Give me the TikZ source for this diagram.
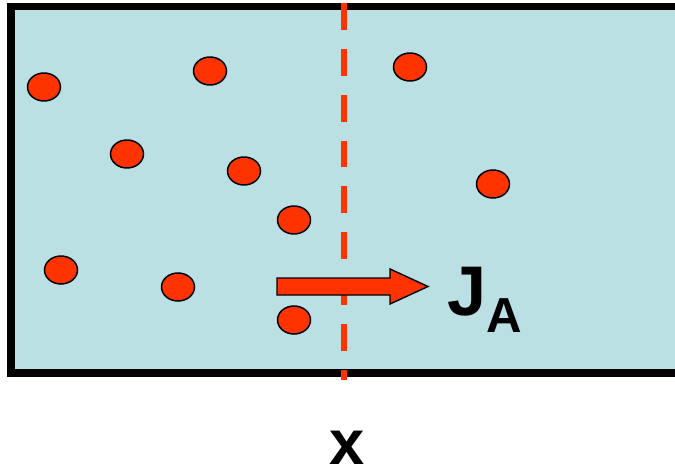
\documentclass[tikz,border=0pt]{standalone}
\usepackage{fontspec}
\setmainfont{Liberation Sans}
\usetikzlibrary{shapes.geometric}

\definecolor{water}{RGB}{187,224,228}
\definecolor{spot}{RGB}{255,51,0}

\begin{document}
\begin{tikzpicture}[
  x=0.02cm,y=-0.02cm,
  box/.style={draw=black, fill=water, line width=4pt},
  particle/.style={ellipse, draw=black, fill=spot, line width=0.85pt, minimum width=0.66cm, minimum height=0.56cm, inner sep=0pt},
  plane/.style={draw=spot, line width=3.4pt, dash pattern=on 15.3pt off 10.8pt},
  flux/.style={draw=black, fill=spot, line width=0.8pt, line join=miter},
  lab/.style={font=\bfseries, inner sep=0pt}
]
  \useasboundingbox (0,0) rectangle (675,473);
  \fill[white] (0,0) rectangle (675,473);

  % the container
  \draw[box] (11,6.5) rectangle (679,373);

  % particles of A
  \node[particle] (p1) at (44,87) {};
  \node[particle] (p2) at (210,71) {};
  \node[particle] (p3) at (127,154) {};
  \node[particle] (p4) at (244,171) {};
  \node[particle] (p5) at (294,220) {};
  \node[particle] (p6) at (61,270) {};
  \node[particle] (p7) at (178,287) {};
  \node[particle] (p8) at (294,320) {};
  \node[particle] (p9) at (410,67) {};
  \node[particle] (p10) at (493,184) {};

  % plane at x
  \coordinate (top) at (344,3);
  \coordinate (bot) at (344,380);
  \draw[plane] (top) -- (bot);

  % flux arrow
  \draw[flux] (277,278) -- (390,278) -- (390,269) -- (428,286.5)
    -- (390,304) -- (390,295) -- (277,295) -- cycle;

  % labels
  \node[lab, anchor=base west] (ja) at (447,315)
    {\fontsize{40}{48}\selectfont J\raisebox{-10.2pt}{\fontsize{28}{32}\selectfont A}};
  \node[lab, anchor=base] (xlab) at (347,464) {\fontsize{36}{42}\selectfont x};
\end{tikzpicture}
\end{document}
